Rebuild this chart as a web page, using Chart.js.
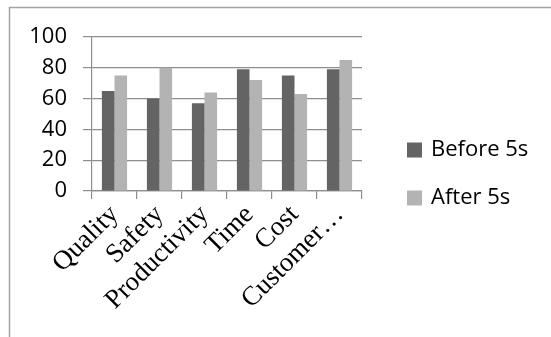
<!DOCTYPE html>
<html>
<head>
<meta charset="utf-8">
<script src="https://cdn.jsdelivr.net/npm/chart.js@4/dist/chart.umd.min.js"></script>
<style>
  html, body { margin: 0; padding: 0; background: #ffffff; }
  #wrap { width: 551px; height: 337px; }
</style>
</head>
<body>
<div id="wrap"><canvas id="c" width="551" height="337"></canvas></div>
<script>
// Survey categories and scores before / after introducing 5S
const categories = ['Quality', 'Safety', 'Productivity', 'Time', 'Cost', 'Customer…'];
const seriesNames = ['Before 5s', 'After 5s'];
const beforeValues = [65, 60, 57, 79, 75, 79];
const afterValues = [75, 80, 64, 72, 63, 85];
const yTickValues = [0, 20, 40, 60, 80, 100];

const darkGrey = '#646464';
const lightGrey = '#b3b3b3';
const gridGrey = '#8e8e8e';

// Outer frame (left and top edges) around the chart
const framePlugin = {
  id: 'frame',
  beforeDraw(chart) {
    const ctx = chart.ctx;
    ctx.save();
    ctx.strokeStyle = '#a3a3a3';
    ctx.lineWidth = 1.5;
    ctx.beginPath();
    ctx.moveTo(9.5, chart.height);
    ctx.lineTo(9.5, 7.5);
    ctx.lineTo(chart.width, 7.5);
    ctx.stroke();
    ctx.restore();
  }
};

// Legend on the right, built from the dataset labels and colours
const sideLegend = {
  id: 'sideLegend',
  afterDraw(chart) {
    const ctx = chart.ctx;
    ctx.save();
    ctx.font = '22px "Open Sans", sans-serif';
    ctx.textBaseline = 'middle';
    ctx.textAlign = 'left';
    chart.data.datasets.forEach((ds, i) => {
      const cy = 150 + i * 48;
      ctx.fillStyle = ds.backgroundColor;
      ctx.fillRect(407, cy - 7.5, 15, 15);
      ctx.fillStyle = '#000000';
      ctx.fillText(ds.label, 431, cy);
    });
    ctx.restore();
  }
};

new Chart(document.getElementById('c'), {
  type: 'bar',
  data: {
    labels: categories,
    datasets: [
      { label: seriesNames[0], data: beforeValues, backgroundColor: darkGrey },
      { label: seriesNames[1], data: afterValues, backgroundColor: lightGrey }
    ]
  },
  options: {
    responsive: false,
    animation: false,
    layout: { padding: { left: 0, top: 37, right: 189, bottom: 0 } },
    datasets: {
      bar: { barPercentage: 1.0, categoryPercentage: 0.56, borderWidth: 0 }
    },
    plugins: {
      legend: { display: false },
      tooltip: { enabled: false }
    },
    scales: {
      x: {
        grid: {
          offset: true,
          drawOnChartArea: false,
          drawTicks: true,
          tickLength: 8,
          color: gridGrey,
          lineWidth: 1.2
        },
        border: { display: true, color: gridGrey, width: 1.2 },
        ticks: {
          minRotation: 45,
          maxRotation: 45,
          autoSkip: false,
          padding: 0,
          color: '#000000',
          font: { family: '"Liberation Serif", "Times New Roman", serif', size: 27 }
        },
        afterFit(scale) { scale.height = 146; }
      },
      y: {
        min: 0,
        max: 100,
        afterBuildTicks(scale) { scale.ticks = yTickValues.map(v => ({ value: v })); },
        grid: {
          color: gridGrey,
          lineWidth: 1.2,
          tickLength: 9,
          drawTicks: true
        },
        border: { display: true, color: gridGrey, width: 1.2 },
        ticks: {
          padding: 16,
          color: '#000000',
          font: { family: '"Open Sans", sans-serif', size: 22 }
        },
        afterFit(scale) { scale.width = 92; }
      }
    }
  },
  plugins: [framePlugin, sideLegend]
});
</script>
</body>
</html>
